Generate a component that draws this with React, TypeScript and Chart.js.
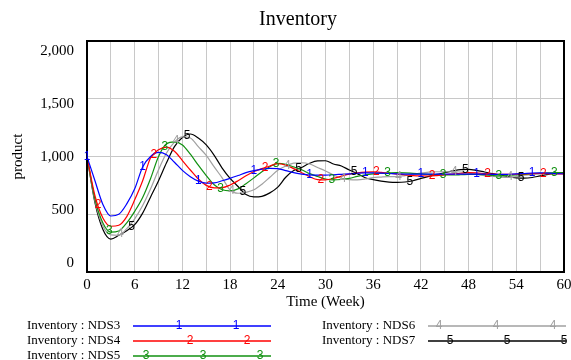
import React, { useEffect, useRef } from 'react';
import { Chart, registerables } from 'chart.js';

Chart.register(...registerables);

// ---- data ----
const weeks = [
  0, 1, 2, 3, 4, 5, 6, 7, 8, 9, 10, 11, 12, 13, 14, 15, 16, 17, 18, 19, 20,
  21, 22, 23, 24, 25, 26, 27, 28, 29, 30, 31, 32, 33, 34, 35, 36, 37, 38, 39, 40,
  41, 42, 43, 44, 45, 46, 47, 48, 49, 50, 51, 52, 53, 54, 55, 56, 57, 58, 59, 60,
];

const nds3 = [
  1000, 790, 585, 485, 500, 590, 720, 910, 1000, 1035, 1015,
  950, 880, 825, 787, 770, 772, 790, 811, 835, 860,
  877, 890, 898, 895, 878, 860, 848, 840, 838, 839,
  842, 846, 850, 855, 858, 858, 856, 853, 850, 848,
  847, 847, 847, 848, 848, 848, 848, 848, 848, 848,
  846, 845, 846, 849, 853, 857, 858, 856, 852, 850,
];

const nds4 = [
  1000, 660, 468, 396, 405, 480, 625, 790, 990, 1058, 1082,
  1045, 965, 883, 805, 750, 728, 730, 753, 790, 833,
  870, 895, 918, 938, 925, 895, 860, 825, 800, 798,
  810, 830, 848, 858, 865, 868, 862, 855, 848, 840,
  835, 832, 831, 835, 842, 848, 855, 860, 858, 852,
  848, 845, 845, 847, 850, 852, 853, 852, 850, 849,
];

const nds5 = [
  1000, 630, 425, 345, 355, 425, 525, 645, 810, 1000, 1110,
  1127, 1100, 1020, 925, 835, 755, 712, 703, 720, 765,
  815, 868, 912, 940, 932, 910, 885, 852, 827, 805,
  797, 801, 810, 828, 842, 850, 855, 858, 860, 858,
  854, 850, 846, 842, 840, 840, 842, 845, 846, 843,
  836, 832, 835, 840, 846, 851, 855, 858, 860, 858,
];

const nds6 = [
  1000, 615, 398, 322, 318, 375, 460, 575, 720, 885, 1030,
  1125, 1170, 1160, 1085, 1010, 910, 815, 710, 682, 690,
  712, 760, 820, 880, 918, 942, 946, 935, 905, 875,
  840, 812, 800, 798, 805, 818, 822, 825, 826, 835,
  845, 856, 864, 868, 868, 868, 866, 856, 845, 835,
  827, 822, 820, 826, 838, 846, 850, 852, 852, 852,
];

const nds7 = [
  1000, 600, 368, 285, 318, 358, 410, 510, 650, 790, 945,
  1085, 1165, 1195, 1160, 1100, 1010, 900, 811, 740, 670,
  650, 655, 685, 735, 820, 878, 905, 941, 962, 963,
  935, 918, 883, 852, 816, 800, 786, 778, 776, 779,
  790, 810, 828, 845, 860, 875, 887, 889, 880, 866,
  852, 840, 825, 815, 812, 818, 832, 845, 855, 860,
];

const seriesData = [nds3, nds4, nds5, nds6, nds7];
const seriesNames = [
  'Inventory : NDS3',
  'Inventory : NDS4',
  'Inventory : NDS5',
  'Inventory : NDS6',
  'Inventory : NDS7',
];
const seriesMarks = ['1', '2', '3', '4', '5'];
const yTickValues = [0, 500, 1000, 1500, 2000];
const chartTitle = 'Inventory';
const xTitle = 'Time (Week)';
const yTitle = 'product';

// ---- styles ----
const seriesColors = ['#0000ff', '#ff0000', '#109010', '#a0a0a0', '#000000'];
const SERIF = 'Liberation Serif';
const SANS = 'Liberation Sans';
const markPeriod = 7;
const markShift = 1.4;
const legendMarkOffsets = [46, 57, 13, 11, 22];

function valueAt(data: number[], t: number) {
  const i = Math.floor(t);
  if (i >= data.length - 1) return data[data.length - 1];
  const f = t - i;
  return data[i] + (data[i + 1] - data[i]) * f;
}

const decorPlugin = {
  id: 'decor',
  afterDatasetsDraw(chart: any) {
    const { ctx, chartArea } = chart;
    const xs = chart.scales.x;
    const ys = chart.scales.y;
    ctx.save();
    // frame
    ctx.strokeStyle = '#000';
    ctx.lineWidth = 2;
    ctx.strokeRect(chartArea.left, chartArea.top, chartArea.right - chartArea.left, chartArea.bottom - chartArea.top);
    // series number markers
    ctx.font = `12px "${SANS}"`;
    ctx.textAlign = 'center';
    ctx.textBaseline = 'middle';
    seriesData.forEach((data, s) => {
      ctx.fillStyle = seriesColors[s];
      for (let t = s * markShift; t <= weeks[weeks.length - 1] + 1e-6; t += markPeriod) {
        const v = valueAt(data, t);
        ctx.fillText(seriesMarks[s], xs.getPixelForValue(t), ys.getPixelForValue(v));
      }
    });
    ctx.restore();
  },
  afterDraw(chart: any) {
    const { ctx } = chart;
    ctx.save();
    // title
    ctx.fillStyle = '#000';
    ctx.font = `20px "${SERIF}"`;
    ctx.textAlign = 'center';
    ctx.textBaseline = 'middle';
    ctx.fillText(chartTitle, 298, 20);
    // legend
    const rows = [326, 341, 356];
    seriesNames.forEach((name, s) => {
      const col = s < 3 ? 0 : 1;
      const row = s < 3 ? s : s - 3;
      const tx = col === 0 ? 27 : 322;
      const lx = col === 0 ? 133 : 428;
      const y = rows[row];
      ctx.fillStyle = '#000';
      ctx.font = `13px "${SERIF}"`;
      ctx.textAlign = 'left';
      ctx.textBaseline = 'middle';
      ctx.fillText(name, tx, y);
      ctx.strokeStyle = seriesColors[s];
      ctx.lineWidth = 1.5;
      ctx.beginPath();
      ctx.moveTo(lx, y);
      ctx.lineTo(lx + 138, y);
      ctx.stroke();
      ctx.fillStyle = seriesColors[s];
      ctx.font = `12px "${SANS}"`;
      ctx.textAlign = 'center';
      for (let px = lx + legendMarkOffsets[s]; px <= lx + 139; px += 57) {
        ctx.fillText(seriesMarks[s], px, y);
      }
    });
    ctx.restore();
  },
};

export default function App() {
  const canvasRef = useRef<HTMLCanvasElement | null>(null);

  useEffect(() => {
    if (!canvasRef.current) return;
    const tickFont = { family: SERIF, size: 15 };
    const chart = new Chart(canvasRef.current, {
      type: 'line',
      data: {
        labels: weeks,
        datasets: seriesData.map((d, i) => ({
          label: seriesNames[i],
          data: d,
          borderColor: seriesColors[i],
          backgroundColor: seriesColors[i],
          borderWidth: 1.2,
          pointRadius: 0,
          cubicInterpolationMode: 'monotone' as const,
          yAxisID: 'y',
        })),
      },
      options: {
        responsive: false,
        animation: false,
        devicePixelRatio: 1,
        layout: { padding: { left: 0, right: 7, top: 41, bottom: 48 } },
        plugins: { legend: { display: false }, title: { display: false }, tooltip: { enabled: false } },
        scales: {
          x: {
            type: 'linear',
            position: 'bottom',
            min: 0,
            max: 60,
            ticks: {
              stepSize: 3,
              autoSkip: false,
              maxRotation: 0,
              padding: 4,
              color: '#000',
              font: tickFont,
              callback: (v: any) => (Number(v) % 6 === 0 ? String(v) : ''),
            },
            grid: { color: '#c8c8c8', drawTicks: false, lineWidth: 1 },
            border: { display: false },
            title: { display: true, text: xTitle, color: '#000', font: tickFont, padding: { top: 0, bottom: 1 } },
            afterFit: (s: any) => {
              s.height = 40;
              s.paddingLeft = 0;
              s.paddingRight = 0;
            },
          },
          y: {
            type: 'linear',
            position: 'left',
            min: 0,
            max: 2000,
            ticks: { display: false, stepSize: 500 },
            grid: { color: '#c8c8c8', drawTicks: false, lineWidth: 1 },
            border: { display: false },
            afterFit: (s: any) => {
              s.width = 0;
              s.paddingTop = 0;
              s.paddingBottom = 0;
            },
          },
          yl: {
            type: 'linear',
            position: 'left',
            min: -85,
            max: 2094,
            grid: { display: false, drawTicks: false },
            border: { display: false },
            afterBuildTicks: (s: any) => {
              s.ticks = yTickValues.map((v) => ({ value: v }));
            },
            ticks: {
              padding: 13,
              color: '#000',
              font: tickFont,
              callback: (v: any) => Number(v).toLocaleString('en-US'),
            },
            title: { display: true, text: yTitle, color: '#000', font: tickFont, padding: { top: 9, bottom: 0 } },
            afterFit: (s: any) => {
              s.width = 87;
              s.paddingTop = 0;
              s.paddingBottom = 0;
            },
          },
        },
      } as any,
      plugins: [decorPlugin],
    });
    return () => chart.destroy();
  }, []);

  return (
    <div style={{ position: 'fixed', left: 0, top: 0, width: 571, height: 360, background: '#fff' }}>
      <canvas ref={canvasRef} width={571} height={360} style={{ display: 'block' }} />
    </div>
  );
}
